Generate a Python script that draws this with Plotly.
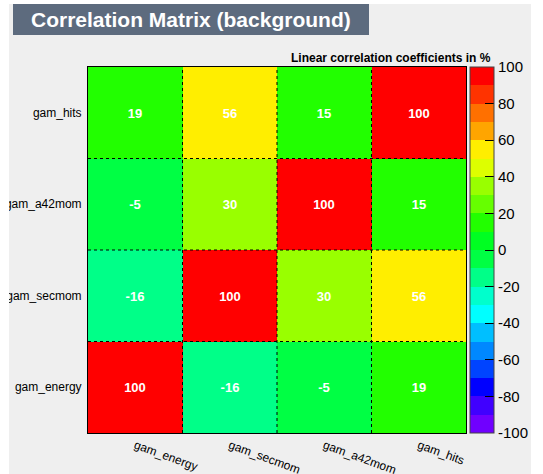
import plotly.graph_objects as go

# ---------------- data ----------------
variables = ["gam_energy", "gam_secmom", "gam_a42mom", "gam_hits"]
row_gam_energy = [100, -16, -5, 19]
row_gam_secmom = [-16, 100, 30, 56]
row_gam_a42mom = [-5, 30, 100, 15]
row_gam_hits = [19, 56, 15, 100]
colorbar_ticks = [-100, -80, -60, -40, -20, 0, 20, 40, 60, 80, 100]
colorbar_ticklabels = ["-100", "-80", "-60", "-40", "-20", "0", "20", "40", "60", "80", "100"]
band_colors = [  # from -100 up to 100, 20 bands of 10 %
    "#7000ff", "#4000ff", "#0000ff", "#0044ff", "#0088ff",
    "#00bfff", "#00ffff", "#00ffcc", "#00ff88", "#00ff44",
    "#00ff22", "#22ff00", "#66ff00", "#99ff00", "#ddff00",
    "#ffee00", "#ffa500", "#ff7000", "#ff3300", "#ff0000",
]
title_text = "Correlation Matrix (background)"
cbar_title = "Linear correlation coefficients in %"

z = [row_gam_energy, row_gam_secmom, row_gam_a42mom, row_gam_hits]

# ---------------- layout geometry ----------------
W, H = 543, 474
L, R, T, B = 88, 77, 67, 41
PW, PH = W - L - R, H - T - B


def px(p):
    return (p - L) / PW


def py(p):
    return (H - B - p) / PH


# discrete colorscale
n = len(band_colors)
cscale = []
for i, c in enumerate(band_colors):
    cscale.append([i / n, c])
    cscale.append([(i + 1) / n - 1e-7, c])
cscale.append([1.0, band_colors[-1]])

idx = list(range(len(variables)))

fig = go.Figure()
fig.add_trace(go.Heatmap(
    z=z, x=idx, y=idx,
    zmin=-100, zmax=100,
    colorscale=cscale,
    text=[[str(v) for v in r] for r in z],
    texttemplate="<b>%{text}</b>",
    textfont=dict(family="Liberation Sans", size=13, color="white"),
    hoverinfo="skip",
    colorbar=dict(
        x=px(470), xanchor="left", xref="paper",
        y=0.5, yanchor="middle",
        thickness=24, thicknessmode="pixels",
        len=PH, lenmode="pixels",
        xpad=0, ypad=0,
        outlinewidth=1, outlinecolor="#444444",
        tickmode="array", tickvals=colorbar_ticks, ticktext=colorbar_ticklabels,
        ticks="inside", ticklen=9, tickwidth=1, tickcolor="black",
        tickfont=dict(family="Liberation Sans", size=15, color="black"),
    ),
))

shapes = []
# canvas background
shapes.append(dict(type="rect", xref="paper", yref="paper", layer="below",
                   x0=px(9), x1=px(531), y0=py(4), y1=py(H + 5),
                   fillcolor="#efefef", line=dict(width=0)))
# title box
shapes.append(dict(type="rect", xref="paper", yref="paper", layer="below",
                   x0=px(13), x1=px(369), y0=py(4), y1=py(35),
                   fillcolor="#5d6b7e", line=dict(width=0)))
# dotted cell boundaries
for i in range(1, len(variables)):
    shapes.append(dict(type="line", xref="x", yref="paper", layer="above",
                       x0=i - 0.5, x1=i - 0.5, y0=0, y1=1,
                       line=dict(color="black", width=1, dash="dot")))
    shapes.append(dict(type="line", xref="paper", yref="y", layer="above",
                       x0=0, x1=1, y0=i - 0.5, y1=i - 0.5,
                       line=dict(color="black", width=1, dash="dot")))
# white page strip on the left (clips labels like the canvas edge)
shapes.append(dict(type="rect", xref="paper", yref="paper", layer="above",
                   x0=px(-5), x1=px(9), y0=py(-5), y1=py(H + 5),
                   fillcolor="white", line=dict(width=0)))

annotations = [
    dict(text="<b>" + title_text + "</b>", xref="paper", yref="paper",
         x=px(191), y=py(19.5), xanchor="center", yanchor="middle",
         showarrow=False, font=dict(family="Liberation Sans", size=21, color="white")),
    dict(text="<b>" + cbar_title + "</b>", xref="paper", yref="paper",
         x=px(493), y=py(58), xanchor="right", yanchor="middle",
         showarrow=False, font=dict(family="Liberation Sans", size=12, color="black")),
]

fig.update_layout(
    width=W, height=H,
    margin=dict(l=L, r=R, t=T, b=B, pad=0, autoexpand=False),
    paper_bgcolor="white", plot_bgcolor="#efefef",
    shapes=shapes, annotations=annotations,
    font=dict(family="Liberation Sans", color="black"),
    xaxis=dict(
        tickmode="array", tickvals=idx, ticktext=variables,
        range=[-0.5, len(variables) - 0.5], tickangle=20,
        showgrid=False, zeroline=False, ticks="", ticklabelstandoff=0,
        showline=True, mirror=True, linecolor="black", linewidth=1,
        automargin=False,
        tickfont=dict(family="Liberation Sans", size=12, color="black"),
    ),
    yaxis=dict(
        tickmode="array", tickvals=idx, ticktext=variables,
        range=[-0.5, len(variables) - 0.5],
        showgrid=False, zeroline=False, ticks="", ticklabelstandoff=3,
        showline=True, mirror=True, linecolor="black", linewidth=1,
        automargin=False,
        tickfont=dict(family="Liberation Sans", size=12, color="black"),
    ),
)

fig.write_html(
    "out.html",
    config={"displayModeBar": False},
    post_script="document.body.style.margin='0';document.body.style.overflow='hidden';",
)
